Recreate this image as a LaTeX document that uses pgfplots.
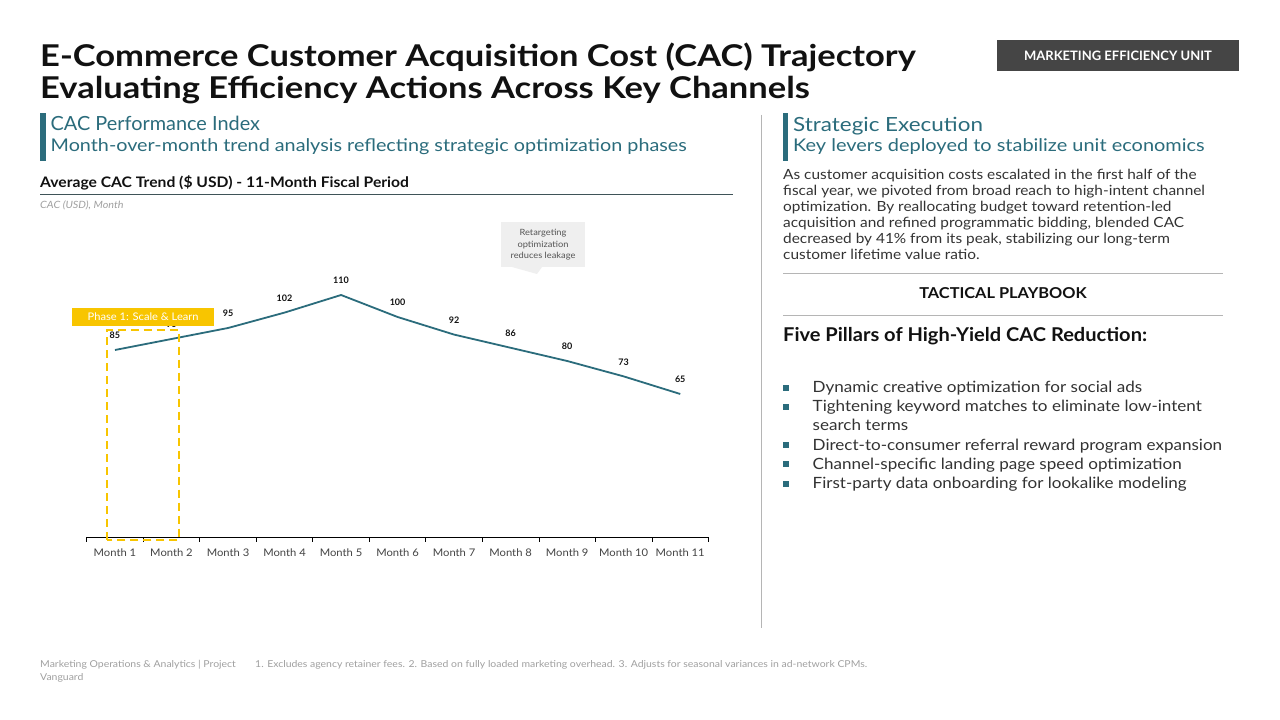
\documentclass[border=0pt]{standalone}
\usepackage{pgfplots}
\pgfplotsset{compat=1.18}
\usepackage{pgfplotstable}
\usepackage{graphicx}
\usepackage{fontspec}
\setmainfont{Lato}

\definecolor{ink}{HTML}{111111}
\definecolor{brandteal}{HTML}{2B6C7C}
\definecolor{bodytext}{HTML}{333333}
\definecolor{softgray}{HTML}{A0A0A0}
\definecolor{labelgray}{HTML}{444444}
\definecolor{badge}{HTML}{454545}
\definecolor{phase}{HTML}{F8C500}
\definecolor{rulegray}{HTML}{B5B5B5}
\definecolor{rulesub}{HTML}{3F5358}
\definecolor{callout}{HTML}{EFEFEF}
\definecolor{callouttext}{HTML}{555555}

\newcommand\fs[1]{\fontsize{#1}{#1}\selectfont}
% text placed with its baseline at (x, y) measured from the top edge,
% widened horizontally by the given factor
\newcommand\placetext[4]{\node[anchor=base west,inner sep=0pt] at (#1,720-#2) {\scalebox{#3}[1]{#4}};}

\pgfplotstableread{
month cac
1 85
2 90
3 95
4 102
5 110
6 100
7 92
8 86
9 80
10 73
11 65
}\cactable

\begin{document}
\begin{tikzpicture}[x=1pt,y=1pt]
\path[use as bounding box, fill=white] (0,0) rectangle (1280,720);

% ---------- header ----------
\placetext{40}{67}{1.15}{\fs{30}\bfseries\color{ink}E-Commerce Customer Acquisition Cost (CAC) Trajectory}
\placetext{40}{98.5}{1.15}{\fs{30}\bfseries\color{ink}Evaluating Efficiency Actions Across Key Channels}
\fill[badge] (997,720-40) rectangle (1239,720-71.5);
\node[text=white, font=\fs{13}\bfseries, inner sep=0pt] at (1118,720-56) {MARKETING EFFICIENCY UNIT};

% ---------- left column ----------
\fill[brandteal] (40,720-113) rectangle (45.5,720-161);
\placetext{50.5}{131}{1.02}{\fs{19.5}\color{brandteal}CAC Performance Index}
\placetext{50.5}{151.5}{1.13}{\fs{17.5}\color{brandteal}Month-over-month trend analysis reflecting strategic optimization phases}
\placetext{40}{188}{1.08}{\fs{14.5}\bfseries\color{ink}Average CAC Trend (\$ USD) - 11-Month Fiscal Period}
\draw[rulesub, line width=0.9pt] (40,720-194.5) -- (733,720-194.5);
\placetext{40}{208.5}{1.08}{\fs{10}\itshape\color{softgray}CAC (USD), Month}

\begin{axis}[
  at={(86.7pt,183pt)}, anchor=south west, scale only axis,
  width=621.8pt, height=308pt,
  xmin=0.5, xmax=11.5, ymin=0, ymax=140,
  axis x line*=bottom, axis y line=none,
  x axis line style={black, line width=0.9pt},
  xtick={1,...,11},
  xticklabels={Month 1,Month 2,Month 3,Month 4,Month 5,Month 6,Month 7,Month 8,Month 9,Month 10,Month 11},
  minor xtick={0.5,1.5,...,11.5},
  major tick length=0pt, minor tick length=5pt, tick align=outside,
  every minor tick/.append style={black, line width=0.8pt},
  xticklabel style={font=\fs{10.5}, text=labelgray, yshift=-8pt, xscale=1.07},
  /pgf/number format/assume math mode=true,
  clip=false,
]
\addplot[brandteal, line width=1.8pt, mark=none,
  nodes near coords,
  every node near coord/.append style={font=\fs{9}\bfseries, text=ink, yshift=7pt}]
  table[x=month, y=cac] {\cactable};
\end{axis}

% phase annotation over the first two months
\draw[phase, line width=2pt, dash pattern=on 8pt off 5pt] (106.7,720-540) rectangle (179,720-330);
\fill[phase] (72.3,720-307.7) rectangle (214,720-325.7);
\node[text=white, font=\fs{10.5}, inner sep=0pt] at (143.2,720-316.7) {\scalebox{1.06}[1]{Phase 1: Scale \& Learn}};

% callout
\fill[callout] (501,720-222.3) rectangle (585,720-267.3);
\fill[callout] (512,720-267) -- (542,720-267) -- (537,720-274) -- cycle;
\node[text=callouttext, font=\fontsize{8.6}{11.4}\selectfont, align=center, inner sep=0pt] at (543,720-245)
  {\scalebox{1.08}[1]{Retargeting}\\\scalebox{1.08}[1]{optimization}\\\scalebox{1.08}[1]{reduces leakage}};

% ---------- divider ----------
\draw[rulegray, line width=0.8pt] (761,720-115) -- (761,720-628);

% ---------- right column ----------
\fill[brandteal] (782.5,720-113) rectangle (788,720-161);
\placetext{793}{131.5}{1.15}{\fs{19.5}\color{brandteal}Strategic Execution}
\placetext{793}{151.5}{1.14}{\fs{17.5}\color{brandteal}Key levers deployed to stabilize unit economics}

\placetext{783}{179.5}{1.1}{\fs{14}\color{bodytext}As customer acquisition costs escalated in the first half of the}
\placetext{783}{195.5}{1.1}{\fs{14}\color{bodytext}fiscal year, we pivoted from broad reach to high-intent channel}
\placetext{783}{211.5}{1.1}{\fs{14}\color{bodytext}optimization. By reallocating budget toward retention-led}
\placetext{783}{227.5}{1.1}{\fs{14}\color{bodytext}acquisition and refined programmatic bidding, blended CAC}
\placetext{783}{243.5}{1.1}{\fs{14}\color{bodytext}decreased by 41\% from its peak, stabilizing our long-term}
\placetext{783}{259.5}{1.1}{\fs{14}\color{bodytext}customer lifetime value ratio.}

\draw[rulegray, line width=0.9pt] (783,720-273.5) -- (1223,720-273.5);
\node[anchor=base, inner sep=0pt, font=\fs{15}\bfseries, text=ink] at (1003,720-298.5) {\scalebox{1.09}[1]{TACTICAL PLAYBOOK}};
\draw[rulegray, line width=0.9pt] (783,720-315) -- (1223,720-315);

\placetext{783}{342}{1.055}{\fs{19}\bfseries\color{ink}Five Pillars of High-Yield CAC Reduction:}

\foreach \yy in {392.5,411.7,450.1,469.3,488.5}
  \fill[brandteal] (783.3,720-\yy+1.8) rectangle (789.3,720-\yy+7.8);
\placetext{812.5}{392.5}{1.1}{\fs{15.5}\color{bodytext}Dynamic creative optimization for social ads}
\placetext{812.5}{411.7}{1.1}{\fs{15.5}\color{bodytext}Tightening keyword matches to eliminate low-intent}
\placetext{812.5}{430.9}{1.1}{\fs{15.5}\color{bodytext}search terms}
\placetext{812.5}{450.1}{1.1}{\fs{15.5}\color{bodytext}Direct-to-consumer referral reward program expansion}
\placetext{812.5}{469.3}{1.1}{\fs{15.5}\color{bodytext}Channel-specific landing page speed optimization}
\placetext{812.5}{488.5}{1.1}{\fs{15.5}\color{bodytext}First-party data onboarding for lookalike modeling}

% ---------- footer ----------
\placetext{40}{668}{1.1}{\fs{9.5}\color{softgray}Marketing Operations \& Analytics | Project}
\placetext{40}{681}{1.1}{\fs{9.5}\color{softgray}Vanguard}
\placetext{255}{668}{1.1}{\fs{9.5}\color{softgray}1. Excludes agency retainer fees. 2. Based on fully loaded marketing overhead. 3. Adjusts for seasonal variances in ad-network CPMs.}

\end{tikzpicture}
\end{document}
